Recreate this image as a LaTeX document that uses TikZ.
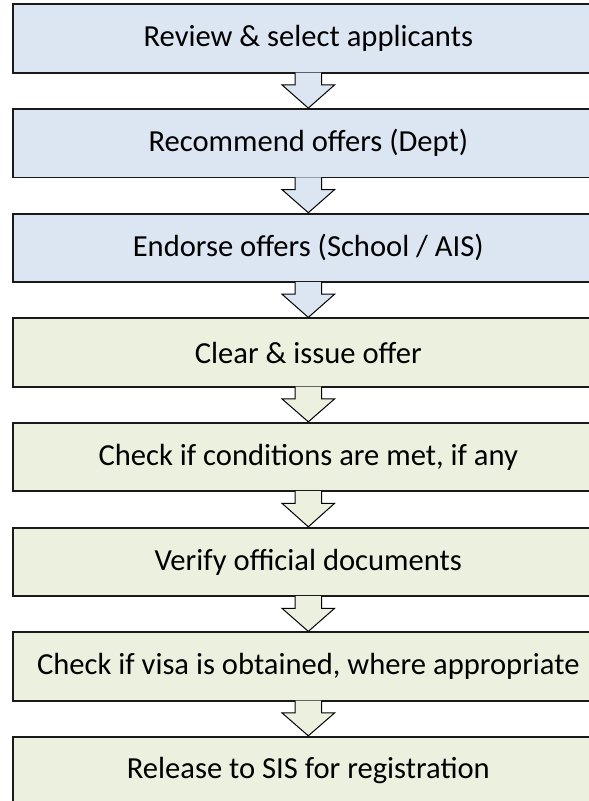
\documentclass[tikz,border=0pt]{standalone}
\usepackage{fontspec}
\setmainfont{Carlito}
\usetikzlibrary{calc}
\definecolor{boxblue}{HTML}{DCE6F2}
\definecolor{boxgreen}{HTML}{EBF1DE}
\tikzset{
  stepbox/.style={draw=black!90, line width=1.8pt, minimum width=590pt, minimum height=68.4pt,
    inner sep=0pt, font=\fontsize{30.6}{36}\selectfont, text=black},
  bluebox/.style={stepbox, fill=boxblue},
  greenbox/.style={stepbox, fill=boxgreen},
  arrowline/.style={draw=black, line width=1pt, line join=miter}
}
\newcommand\flowarr[3]{%
  \draw[arrowline, fill=#3]
    ($(#1.south)+(-13.3,-0.9)$) -- ($(#1.south)+(-13.3,11.3)$) -- ($(#1.south)+(-26.3,11.3)$)
    -- (#2.north) -- ($(#1.south)+(26.3,11.3)$) -- ($(#1.south)+(13.3,11.3)$) -- ($(#1.south)+(13.3,-0.9)$);}
\begin{document}
\begin{tikzpicture}[x=1pt,y=-1pt]
\useasboundingbox (0,0) rectangle (589,801);
\node[bluebox]  (b1) at (308.3, 38.5)  {Review \& select applicants};
\node[bluebox]  (b2) at (308.3, 143.2) {Recommend offers (Dept)};
\node[bluebox]  (b3) at (308.3, 247.8) {Endorse offers (School / AIS)};
\node[greenbox] (b4) at (308.3, 352.5) {Clear \& issue offer};
\node[greenbox] (b5) at (308.3, 456.9) {Check if conditions are met, if any};
\node[greenbox] (b6) at (308.3, 561.9) {Verify official documents};
\node[greenbox] (b7) at (308.3, 666.5) {Check if visa is obtained, where appropriate};
\node[greenbox] (b8) at (308.3, 770.9) {Release to SIS for registration};
\flowarr{b1}{b2}{boxblue}
\flowarr{b2}{b3}{boxblue}
\flowarr{b3}{b4}{boxblue}
\flowarr{b4}{b5}{boxgreen}
\flowarr{b5}{b6}{boxgreen}
\flowarr{b6}{b7}{boxgreen}
\flowarr{b7}{b8}{boxgreen}
\end{tikzpicture}
\end{document}
